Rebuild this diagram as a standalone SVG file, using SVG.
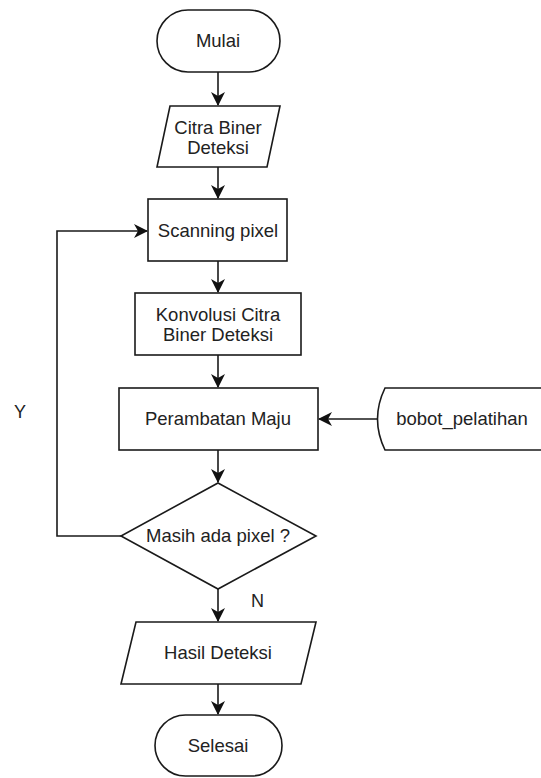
<svg xmlns="http://www.w3.org/2000/svg" width="541" height="778" viewBox="0 0 541 778">
<style>
.s{fill:#fff;stroke:#1a1a1a;stroke-width:1.6}
.c{fill:none;stroke:#1a1a1a;stroke-width:1.6}
.t{font-family:"Liberation Sans",Arial,sans-serif;font-size:18.5px;fill:#222;text-anchor:middle}
.l{font-family:"Liberation Sans",Arial,sans-serif;font-size:18px;fill:#222}
</style>
<defs>
<marker id="a" viewBox="0 0 14 14" refX="13" refY="7" markerWidth="14" markerHeight="14" markerUnits="userSpaceOnUse" orient="auto">
<path d="M0,0 L14,7 L0,14 L4,7 z" fill="#111"/>
</marker>
</defs>
<rect width="541" height="778" fill="#fff"/>
<g id="connectors">
<line class="c" x1="218" y1="72" x2="218" y2="105" marker-end="url(#a)"/>
<line class="c" x1="218" y1="167" x2="218" y2="198" marker-end="url(#a)"/>
<line class="c" x1="218" y1="261" x2="218" y2="292" marker-end="url(#a)"/>
<line class="c" x1="218" y1="355" x2="218" y2="387" marker-end="url(#a)"/>
<line class="c" x1="218" y1="450" x2="218" y2="482" marker-end="url(#a)"/>
<line class="c" x1="377" y1="419" x2="319" y2="419" marker-end="url(#a)"/>
<polyline class="c" points="121,536 57,536 57,231 147,231" marker-end="url(#a)"/>
<line class="c" x1="218" y1="589" x2="218" y2="621" marker-end="url(#a)"/>
<line class="c" x1="218" y1="684" x2="218" y2="714" marker-end="url(#a)"/>
<text class="l" x="14" y="418">Y</text>
<text class="l" x="251" y="607">N</text>
</g>
<g id="mulai">
<rect class="s" x="157" y="10" width="123" height="62" rx="31"/>
<text class="t" x="218" y="47">Mulai</text>
</g>
<g id="citra">
<polygon class="s" points="170,106 280,106 267,167 157,167"/>
<text class="t" x="218" y="134">Citra Biner</text>
<text class="t" x="218" y="154">Deteksi</text>
</g>
<g id="scanning">
<rect class="s" x="148" y="199" width="139" height="62"/>
<text class="t" x="218" y="237">Scanning pixel</text>
</g>
<g id="konvolusi">
<rect class="s" x="135" y="293" width="166" height="62"/>
<text class="t" x="218" y="321">Konvolusi Citra</text>
<text class="t" x="218" y="341">Biner Deteksi</text>
</g>
<g id="perambatan">
<rect class="s" x="119" y="388" width="199" height="62"/>
<text class="t" x="218" y="425">Perambatan Maju</text>
</g>
<g id="bobot">
<path class="s" d="M545,388 L385,388 Q370,419 385,450 L545,450"/>
<text class="t" x="462" y="425">bobot_pelatihan</text>
</g>
<g id="masih">
<polygon class="s" points="218,483 316,536 218,589 121,536"/>
<text class="t" x="218" y="542">Masih ada pixel ?</text>
</g>
<g id="hasil">
<polygon class="s" points="136,622 316,622 301,684 121,684"/>
<text class="t" x="218" y="659">Hasil Deteksi</text>
</g>
<g id="selesai">
<rect class="s" x="155" y="715" width="127" height="61" rx="30.5"/>
<text class="t" x="218" y="752">Selesai</text>
</g>
</svg>
